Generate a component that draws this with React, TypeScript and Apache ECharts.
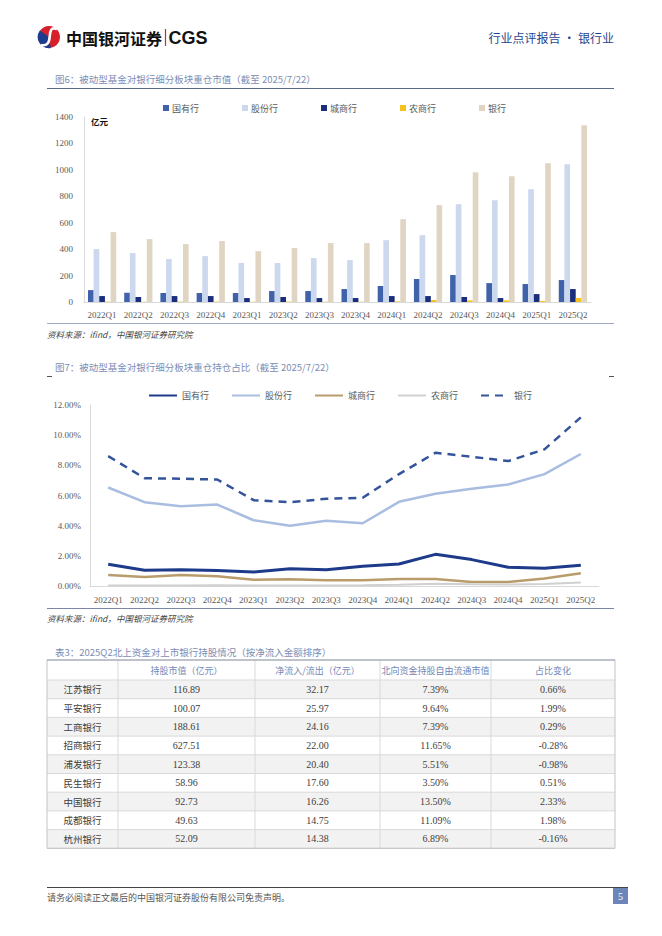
import React, { useEffect, useRef } from "react";
import * as echarts from "echarts";

// ---------- data ----------
const quarters = ["2022Q1", "2022Q2", "2022Q3", "2022Q4", "2023Q1", "2023Q2", "2023Q3", "2023Q4", "2024Q1", "2024Q2", "2024Q3", "2024Q4", "2025Q1", "2025Q2"];
const seriesNames = ["国有行", "股份行", "城商行", "农商行", "银行"];

// 图6 重仓市值（亿元）
const stateOwnedValue = [90, 70, 68, 68, 68, 83, 83, 98, 121, 174, 204, 143, 136, 166];
const jointStockValue = [400, 370, 325, 347, 295, 295, 332, 317, 468, 506, 740, 770, 854, 1042];
const cityBankValue = [45, 38, 45, 45, 30, 38, 30, 30, 45, 45, 38, 30, 60, 98];
const ruralBankValue = [3, 2, 3, 3, 2, 3, 2, 2, 5, 15, 12, 12, 8, 30];
const bankValue = [529, 476, 438, 461, 385, 408, 446, 446, 627, 733, 982, 952, 1050, 1337];

// 图7 重仓持仓占比（%）
const stateOwnedShare = [1.44, 1.04, 1.08, 1.02, 0.93, 1.15, 1.08, 1.31, 1.46, 2.1, 1.75, 1.24, 1.17, 1.37];
const jointStockShare = [6.53, 5.56, 5.29, 5.4, 4.36, 3.99, 4.32, 4.16, 5.58, 6.11, 6.44, 6.73, 7.42, 8.75];
const cityBankShare = [0.73, 0.6, 0.73, 0.64, 0.42, 0.44, 0.38, 0.38, 0.46, 0.46, 0.27, 0.27, 0.49, 0.84];
const ruralBankShare = [0.03, 0.03, 0.04, 0.05, 0.04, 0.04, 0.04, 0.05, 0.08, 0.15, 0.12, 0.1, 0.13, 0.24];
const bankShare = [8.61, 7.15, 7.11, 7.06, 5.69, 5.56, 5.78, 5.85, 7.42, 8.83, 8.57, 8.28, 9.06, 11.18];

// 表3
const tableHeaders = ["", "持股市值（亿元）", "净流入/流出（亿元）", "北向资金持股自由流通市值", "占比变化"];
const tableBanks = ["江苏银行", "平安银行", "工商银行", "招商银行", "浦发银行", "民生银行", "中国银行", "成都银行", "杭州银行"];
const holdingValue = [116.89, 100.07, 188.61, 627.51, 123.38, 58.96, 92.73, 49.63, 52.09];
const netFlow = [32.17, 25.97, 24.16, 22.0, 20.4, 17.6, 16.26, 14.75, 14.38];
const northShare = [7.39, 9.64, 7.39, 11.65, 5.51, 3.5, 13.5, 11.09, 6.89];
const shareChange = [0.66, 1.99, 0.29, -0.28, -0.98, 0.51, 2.33, 1.98, -0.16];

// ---------- styles ----------
const serif = "'Liberation Serif', 'Noto Sans CJK SC', serif";
const cjk = "'Noto Sans CJK SC', sans-serif";
const barColors = ["#3f62ab", "#cbd8ed", "#1b2e7c", "#f6c21c", "#e0d5c3"];
const lineColors = ["#1e3a8a", "#a9bde1", "#b99c6b", "#d0d0d0", "#34549a"];
const titleColor = "#7d8db4";

function txt(x: number, y: number, text: string, o: any = {}) {
  const align = o.align || "left";
  return {
    type: "text",
    x,
    y,
    silent: true,
    style: {
      text,
      fill: o.color || "#404040",
      fontSize: o.size || 9,
      fontFamily: o.family || cjk,
      fontWeight: o.weight || "normal",
      fontStyle: o.style || "normal",
      align,
      textAlign: align,
      verticalAlign: "middle",
      textVerticalAlign: "middle",
    },
  };
}
function hline(x1: number, x2: number, y: number, color: string, w = 1) {
  return { type: "line", silent: true, shape: { x1, y1: y, x2, y2: y }, style: { stroke: color, lineWidth: w } };
}
function vline(x: number, y1: number, y2: number, color: string, w = 1) {
  return { type: "line", silent: true, shape: { x1: x, y1, x2: x, y2 }, style: { stroke: color, lineWidth: w } };
}

function buildTable() {
  const els: any[] = [];
  const cols = [47, 118, 255, 380, 491, 615];
  const top = 660;
  const headH = 20;
  const rowH = 18.7;
  const bottom = top + headH + rowH * tableBanks.length;
  tableBanks.forEach((_, i) => {
    if (i % 2 === 0) {
      els.push({
        type: "rect",
        silent: true,
        shape: { x: cols[0], y: top + headH + i * rowH, width: cols[5] - cols[0], height: rowH },
        style: { fill: "#f2f2f2" },
      });
    }
  });
  for (let i = 0; i <= tableBanks.length; i++) {
    els.push(hline(cols[0], cols[5], top + headH + i * rowH, "#d9d9d9"));
  }
  for (let c = 1; c < cols.length - 1; c++) els.push(vline(cols[c], top, bottom, "#d9d9d9"));
  els.push({
    type: "rect",
    silent: true,
    shape: { x: cols[0], y: top, width: cols[5] - cols[0], height: bottom - top },
    style: { fill: "none", stroke: "#c4c4c4", lineWidth: 1 },
  });
  els.push(hline(cols[0], cols[5], top, "#9aa3b5"));
  tableHeaders.forEach((h, c) => {
    if (h) els.push(txt((cols[c] + cols[c + 1]) / 2, top + headH / 2, h, { align: "center", color: "#6f87b8", size: 9 }));
  });
  tableBanks.forEach((b, i) => {
    const y = top + headH + i * rowH + rowH / 2;
    const cells = [b, holdingValue[i].toFixed(2), netFlow[i].toFixed(2), northShare[i].toFixed(2) + "%", shareChange[i].toFixed(2) + "%"];
    cells.forEach((v, c) => {
      els.push(txt((cols[c] + cols[c + 1]) / 2, y, v, { align: "center", color: "#404040", size: c === 0 ? 9.5 : 10, family: c === 0 ? cjk : serif }));
    });
  });
  return els;
}

function buildGraphic() {
  const g: any[] = [];
  // header logo
  g.push({ type: "circle", silent: true, shape: { cx: 49, cy: 37, r: 11 }, style: { fill: "#d7202a" } });
  g.push({ type: "sector", silent: true, shape: { cx: 49, cy: 37, r: 11.2, r0: 0, startAngle: Math.PI * 0.45, endAngle: Math.PI * 1.2 }, style: { fill: "#1d3c8f" } });
  g.push({
    type: "bezierCurve",
    silent: true,
    shape: { x1: 57, y1: 29, cpx1: 44, cpy1: 24, cpx2: 56, cpy2: 48, x2: 41, y2: 45 },
    style: { stroke: "#ffffff", lineWidth: 2.6, fill: "none" },
  });
  g.push(txt(66, 37.5, "中国银河证券", { size: 16, weight: "bold", color: "#111", family: cjk }));
  g.push(vline(165.5, 29, 46, "#c8282e", 1.2));
  g.push(txt(168.5, 37.5, "CGS", { size: 18, weight: "bold", color: "#111", family: "'Liberation Sans', Arial, sans-serif" }));
  g.push(txt(614, 37.5, "行业点评报告 · 银行业", { size: 12, color: "#1f4690", align: "right" }));

  // figure 6
  g.push(txt(55, 79, "图6：被动型基金对银行细分板块重仓市值（截至 2025/7/22）", { size: 9.5, color: titleColor }));
  g.push(hline(47, 614, 88.5, "#5b6a8a", 1));
  g.push(txt(91, 121, "亿元", { size: 8.5, weight: "bold", color: "#111" }));
  g.push(hline(47, 614, 323.5, "#8a96b3", 0.8));
  g.push(txt(47, 333.5, "资料来源：ifind，中国银河证券研究院", { size: 8.5, style: "italic", color: "#444" }));

  // figure 7
  g.push(txt(55, 367, "图7：被动型基金对银行细分板块重仓持仓占比（截至 2025/7/22）", { size: 9.5, color: titleColor }));
  g.push(hline(47, 52, 376.5, "#555", 1));
  g.push(hline(609, 614, 376.5, "#555", 1));
  g.push(hline(47, 614, 608.5, "#7a87a8", 1));
  g.push(txt(47, 617.5, "资料来源：ifind，中国银河证券研究院", { size: 8.5, style: "italic", color: "#444" }));

  // table 3
  g.push(txt(55, 651.5, "表3：2025Q2北上资金对上市银行持股情况（按净流入金额排序）", { size: 9.5, color: titleColor }));
  g.push(...buildTable());

  // footer
  g.push(hline(47, 628, 887.5, "#444", 1));
  g.push(txt(47, 897, "请务必阅读正文最后的中国银河证券股份有限公司免责声明。", { size: 9, color: "#555" }));
  g.push({ type: "rect", silent: true, shape: { x: 613, y: 888, width: 15, height: 16 }, style: { fill: "#6d86ba" } });
  g.push(txt(620.5, 896.5, "5", { size: 10, color: "#fff", align: "center", family: serif }));
  return g;
}

export default function App() {
  const ref = useRef<HTMLDivElement>(null);
  useEffect(() => {
    if (!ref.current) return;
    const chart = echarts.init(ref.current, undefined, { renderer: "svg" });
    const barData = [stateOwnedValue, jointStockValue, cityBankValue, ruralBankValue, bankValue];
    const lineData = [stateOwnedShare, jointStockShare, cityBankShare, ruralBankShare, bankShare];
    const axisLabel = { color: "#595959", fontSize: 9, fontFamily: serif };
    const option: any = {
      animation: false,
      backgroundColor: "#ffffff",
      textStyle: { fontFamily: cjk },
      grid: [
        { left: 84, right: 71, top: 117, height: 185 },
        { left: 90, right: 63, top: 405, height: 181 },
      ],
      legend: [
        {
          data: seriesNames,
          top: 98.5,
          left: 158,
          itemWidth: 6,
          itemHeight: 6,
          itemGap: 43,
          icon: "rect",
          selectedMode: false,
          textStyle: { fontSize: 9, color: "#595959", fontFamily: cjk, padding: [0, 0, 0, -2] },
        },
        {
          data: seriesNames.map((n) => n + "|2"),
          formatter: (n: string) => n.split("|")[0],
          top: 386,
          left: 143,
          itemWidth: 28,
          itemHeight: 10,
          itemGap: 22,
          selectedMode: false,
          itemStyle: { opacity: 0 },
          textStyle: { fontSize: 9, color: "#595959", fontFamily: cjk },
        },
      ],
      xAxis: [
        {
          type: "category",
          gridIndex: 0,
          data: quarters,
          axisLine: { lineStyle: { color: "#d9d9d9" } },
          axisTick: { show: false },
          axisLabel: { ...axisLabel, margin: 8, interval: 0 },
        },
        {
          type: "category",
          gridIndex: 1,
          data: quarters,
          axisLine: { lineStyle: { color: "#d9d9d9" } },
          axisTick: { show: false },
          axisLabel: { ...axisLabel, margin: 9, interval: 0 },
        },
      ],
      yAxis: [
        {
          type: "value",
          gridIndex: 0,
          min: 0,
          max: 1400,
          interval: 200,
          axisLine: { show: true, lineStyle: { color: "#d9d9d9" } },
          axisTick: { show: false },
          splitLine: { show: false },
          axisLabel: { ...axisLabel, margin: 11, formatter: (v: number) => String(v) },
        },
        {
          type: "value",
          gridIndex: 1,
          min: 0,
          max: 12,
          interval: 2,
          axisLine: { show: true, lineStyle: { color: "#d9d9d9" } },
          axisTick: { show: false },
          splitLine: { show: false },
          axisLabel: { ...axisLabel, margin: 9, formatter: (v: number) => v.toFixed(2) + "%" },
        },
      ],
      series: [
        ...seriesNames.map((n, i) => ({
          type: "bar",
          name: n,
          xAxisIndex: 0,
          yAxisIndex: 0,
          data: barData[i],
          barGap: "0%",
          barCategoryGap: "22%",
          itemStyle: { color: barColors[i] },
        })),
        ...seriesNames.map((n, i) => ({
          type: "line",
          name: n + "|2",
          xAxisIndex: 1,
          yAxisIndex: 1,
          data: lineData[i],
          symbol: "none",
          itemStyle: { color: lineColors[i] },
          lineStyle: {
            color: lineColors[i],
            width: i === 3 ? 2 : i === 0 ? 3 : 2.5,
            type: i === 4 ? [8, 6] : "solid",
          },
        })),
      ],
      graphic: { elements: buildGraphic() },
    };
    chart.setOption(option);
    return () => chart.dispose();
  }, []);
  return <div ref={ref} style={{ position: "absolute", left: 0, top: 0, width: 662, height: 936, background: "#fff" }} />;
}
